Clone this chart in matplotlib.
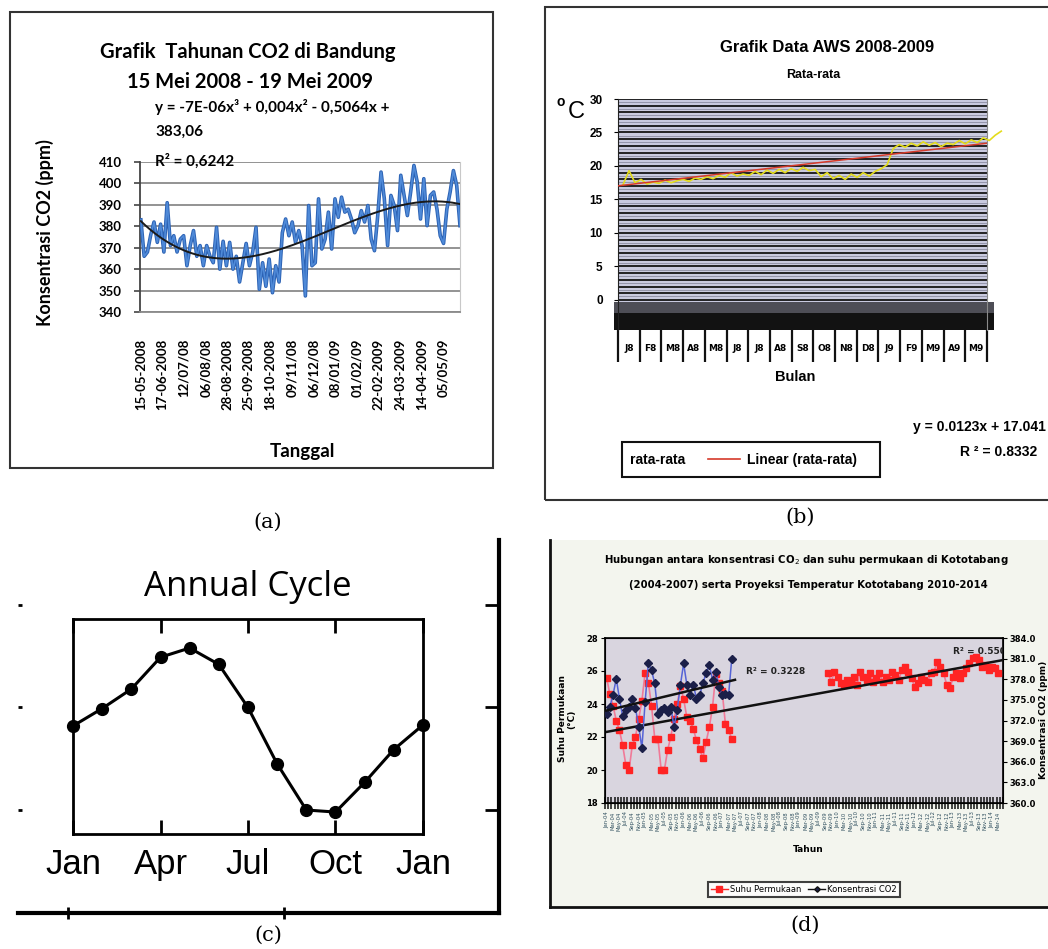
import numpy as np
import matplotlib
matplotlib.use('Agg')
import matplotlib.pyplot as plt
from matplotlib.lines import Line2D
from matplotlib.patches import Rectangle
from matplotlib import font_manager as fm
import pandas as pd

# ------------------------------------------------------------------ data
# (a) Grafik Tahunan CO2 di Bandung
co2_bandung = [383, 366, 368, 376, 382, 372.5, 381, 368, 391, 371, 375.6, 368, 374, 375.6,
               361.6, 371, 378, 366, 371, 361.6, 371, 366, 363, 379.5, 360, 373, 361.6, 372.5,
               360, 366, 354, 363, 372, 361.6, 368, 379.5, 350.6, 363, 352, 364.7, 349, 361.6,
               354, 377, 383.4, 375.6, 382, 372.5, 378, 371,
               347.5, 389.7, 361.6, 363, 392.8, 369.4, 374, 386.6, 369.4, 392.8, 384.2, 393.6,
               386.6, 388, 383.4, 377, 380.3, 387.3, 382, 389.7, 374, 368.6, 385, 405.3, 392.8,
               371, 394.4, 389.7, 378, 403.8, 394.4, 385, 396, 408.4, 400.6, 383.4, 402.2, 380.3,
               394.4, 396, 388, 375.6, 372, 388, 396, 406, 399, 380.3]
a_tick_labels = ['15-05-2008', '17-06-2008', '12/07/08', '06/08/08', '28-08-2008',
                 '25-09-2008', '18-10-2008', '09/11/08', '06/12/08', '08/01/09',
                 '01/02/09', '22-02-2009', '24-03-2009', '14-04-2009', '05/05/09']
a_n_days = 370

# (b) Grafik Data AWS 2008-2009
rata_rata = [17.2, 19.3, 17.5, 18.0, 17.3, 17.6, 17.4, 17.9, 17.5, 17.8, 18.0, 17.7, 18.2, 18.0,
             18.4, 18.1, 18.6, 18.3, 19.0, 18.5, 18.8, 18.6, 19.2, 18.7, 19.4, 18.9, 19.5, 19.0,
             19.6, 19.2, 19.8, 19.3, 19.5, 18.4, 19.0, 18.1, 18.6, 18.0, 18.8, 18.3, 19.0, 18.5,
             19.2, 19.6, 20.2, 22.6, 23.2, 22.8, 23.4, 23.0, 23.6, 23.1, 23.5, 22.9, 23.4, 23.2,
             23.8, 23.3, 23.9, 23.5, 24.2, 23.8, 24.6, 25.2]
b_first_day, b_last_day = 7, 537
b_months = ['J8', 'F8', 'M8', 'A8', 'M8', 'J8', 'J8', 'A8', 'S8', 'O8', 'N8', 'D8',
            'J9', 'F9', 'M9', 'A9', 'M9']
b_total_days = 517
b_slope, b_intercept = 0.0123, 17.041

# (c) Annual Cycle
c_months = ['Jan', 'Apr', 'Jul', 'Oct', 'Jan']
annual_cycle = [0.82, 0.99, 1.18, 1.49, 1.58, 1.42, 1.00, 0.45, 0.00, -0.02, 0.27, 0.59, 0.83]

# (d) Kototabang
suhu_2004_2007 = [25.6, 24.6, 23.9, 23.0, 22.4, 21.5, 20.3, 20.0, 21.5, 22.0, 23.1, 24.2, 25.9,
                  25.3, 23.9, 21.9, 21.9, 20.0, 20.0, 21.2, 22.0, 23.1, 24.0, 25.1, 24.3, 23.2,
                  23.0, 22.5, 21.8, 21.3, 20.7, 21.7, 22.6, 23.8, 25.8, 25.3, 24.8, 22.8, 22.4, 21.9]
co2_2004_2007 = [373.0, 374.0, 375.7, 378.1, 375.2, 372.6, 373.5, 374.0, 375.2, 373.8, 371.1,
                 368.0, 374.7, 380.3, 379.3, 377.4, 373.0, 373.5, 373.8, 373.3, 374.0, 371.1,
                 373.5, 377.2, 380.3, 377.2, 375.7, 377.2, 375.2, 375.7, 377.4, 378.9, 380.1,
                 377.9, 379.1, 376.9, 375.7, 375.9, 375.7, 381.0]
suhu_proyeksi = [25.86, 25.35, 25.96, 25.66, 25.25, 25.15, 25.45, 25.25, 25.66, 25.15, 25.96,
                 25.66, 25.45, 25.86, 25.35, 25.56, 25.86, 25.35, 25.66, 25.45, 25.96, 25.76,
                 25.45, 26.06, 26.26, 25.96, 25.56, 25.05, 25.25, 25.66, 25.45, 25.35, 25.86,
                 25.96, 26.56, 26.26, 25.86, 25.15, 24.95, 25.66, 25.86, 25.56, 25.86, 26.16,
                 26.46, 26.77, 26.87, 26.67, 26.26, 26.36, 26.06, 26.26, 26.16, 25.86]
d_total_months = 124
d_proj_start = 69
d_start = '2004-01'

# ------------------------------------------------------------------ helpers
W, H = 1048, 949
fig = plt.figure(figsize=(W / 100, H / 100), dpi=100)
fig.patch.set_facecolor('white')

names = {f.name for f in fm.fontManager.ttflist}
NARROW = 'Liberation Sans Narrow' if 'Liberation Sans Narrow' in names else 'DejaVu Sans'
ARIAL = 'Liberation Sans'
CAL = 'Lato'


def fx(x):
    return x / W


def fy(y):
    return 1 - y / H


def add_ax(x0, y0, x1, y1, **kw):
    return fig.add_axes([x0 / W, 1 - y1 / H, (x1 - x0) / W, (y1 - y0) / H], **kw)


def ftext(x, y, s, **kw):
    kw.setdefault('ha', 'center')
    kw.setdefault('va', 'center')
    return fig.text(x / W, 1 - y / H, s, **kw)


def frect(x0, y0, x1, y1, **kw):
    r = Rectangle((x0 / W, 1 - y1 / H), (x1 - x0) / W, (y1 - y0) / H,
                  transform=fig.transFigure, **kw)
    fig.patches.append(r)
    return r


def fline(xs, ys, **kw):
    fig.lines.append(Line2D([fx(v) for v in xs], [fy(v) for v in ys],
                            transform=fig.transFigure, **kw))


# ------------------------------------------------------------------ panel (a)
frect(10, 12, 493, 468, fill=False, ec='#333333', lw=1.5)
axA = add_ax(140, 162, 460, 312)
xA = np.linspace(1, a_n_days, len(co2_bandung))
axA.plot(xA, co2_bandung, color='#2c62b4', lw=2.6, zorder=3)
axA.plot(xA, co2_bandung, color='#4f8ad8', lw=1.2, zorder=3)
coef = np.polyfit(xA, co2_bandung, 3)
xfit = np.linspace(1, a_n_days, 300)
axA.plot(xfit, np.polyval(coef, xfit), color='#1a1a1a', lw=1.4, zorder=4)
axA.set_xlim(0, a_n_days)
axA.set_ylim(340, 410)
axA.set_yticks(range(340, 411, 10))
axA.yaxis.grid(True, color='#8a8a8a', lw=1.3)
axA.set_axisbelow(True)
axA.set_xticks(np.arange(1, a_n_days, 25)[:len(a_tick_labels)])
axA.set_xticklabels(a_tick_labels, rotation=90)
for lab in axA.get_xticklabels() + axA.get_yticklabels():
    lab.set_fontfamily(CAL)
    lab.set_fontweight('bold')
axA.tick_params(axis='x', length=0, pad=19, labelsize=9.5)
axA.tick_params(axis='y', length=4, width=1.2, color='#444444', labelsize=9.5, pad=9)
axA.spines['left'].set_color('#444444')
axA.spines['left'].set_linewidth(1.3)
axA.spines['bottom'].set_color('#8a8a8a')
axA.spines['bottom'].set_linewidth(1.3)
axA.spines['top'].set_visible(False)
axA.spines['right'].set_color('#c8c8c8')

ftext(248, 52, 'Grafik  Tahunan CO2 di Bandung', fontsize=14.5, fontweight='bold', family=CAL)
ftext(250, 82, '15 Mei 2008 - 19 Mei 2009', fontsize=14.5, fontweight='bold', family=CAL)
ftext(155, 107, 'y = -7E-06x³ + 0,004x² - 0,5064x +', ha='left', fontsize=11,
      fontweight='bold', family=CAL)
ftext(155, 132, '383,06', ha='left', fontsize=11, fontweight='bold', family=CAL)
ftext(155, 161, 'R² = 0,6242', ha='left', fontsize=11, fontweight='bold', family=CAL)
ftext(45, 233, 'Konsentrasi CO2 (ppm)', rotation=90, fontsize=13, fontweight='bold', family=CAL)
ftext(302, 452, 'Tanggal', fontsize=13.5, fontweight='bold', family=CAL)

# ------------------------------------------------------------------ panel (b)
frect(545, 7, 1060, 500, fill=False, ec='#333333', lw=1.5)
axB = add_ax(618, 99, 987, 330)
axB.set_facecolor('#c9cadf')
axB.set_xlim(0, b_total_days)
axB.set_ylim(-4.48, 30)
for v in range(0, 31):
    axB.axhline(v, color='#151515', lw=1.3, zorder=1)
    axB.axhline(v - 0.45, color='#8c8da2', lw=0.6, zorder=1)
axB.add_patch(Rectangle((-5.6, -1.9), 532, 1.6, fc='#4e4e56', ec='none',
                        clip_on=False, zorder=2))
axB.add_patch(Rectangle((-5.6, -4.48), 532, 2.58, fc='#121212', ec='none',
                        clip_on=False, zorder=2))
xB = np.linspace(b_first_day, b_last_day, len(rata_rata))
axB.plot(xB, rata_rata, color='#e4dc1c', lw=1.2, zorder=4, clip_on=False)
axB.plot([0, b_total_days], [b_intercept, b_intercept + b_slope * b_total_days],
         color='#d63a2a', lw=1.1, zorder=5)
axB.set_yticks(range(0, 31, 5))
for lab in axB.get_yticklabels():
    lab.set_fontfamily(ARIAL)
    lab.set_fontweight('bold')
axB.tick_params(axis='y', length=3, labelsize=8.5, pad=8)
edges = np.linspace(0, b_total_days, len(b_months) + 1)
axB.set_xticks(edges)
axB.set_xticklabels([])
axB.tick_params(axis='x', which='major', length=23, width=1.6, color='#111111')
axB.set_xticks((edges[:-1] + edges[1:]) / 2, minor=True)
axB.set_xticklabels(b_months, minor=True)
for lab in axB.get_xticklabels(minor=True):
    lab.set_fontfamily(NARROW)
    lab.set_fontweight('bold')
axB.tick_params(axis='x', which='minor', length=0, labelsize=6.5, pad=10)
axB.spines['top'].set_visible(False)
axB.spines['bottom'].set_visible(False)
axB.spines['right'].set_color('#8a8a8a')
axB.spines['left'].set_color('#222222')

ftext(827, 48, 'Grafik Data AWS 2008-2009', fontsize=12, fontweight='bold', family=ARIAL)
ftext(813, 75, 'Rata-rata', fontsize=9, fontweight='bold', family=ARIAL)
ftext(561, 102, 'o', fontsize=10, fontweight='bold', family=ARIAL)
ftext(576, 112, 'C', fontsize=17, family=ARIAL)
ftext(795, 377, 'Bulan', fontsize=10.5, fontweight='bold', family=ARIAL)
frect(622, 442, 880, 477, fill=False, ec='#111111', lw=1.5)
ftext(630, 460, 'rata-rata', ha='left', fontsize=10, fontweight='bold', family=ARIAL)
fline([708, 740], [459, 459], color='#d63a2a', lw=1.2)
ftext(747, 460, 'Linear (rata-rata)', ha='left', fontsize=10, fontweight='bold', family=ARIAL)
ftext(1046, 427, 'y = 0.0123x + 17.041', ha='right', fontsize=10, fontweight='bold', family=ARIAL)
ftext(1037, 452, 'R ² = 0.8332', ha='right', fontsize=10, fontweight='bold', family=ARIAL)

# ------------------------------------------------------------------ panel (c)
axC0 = add_ax(18, 540, 499, 913)
axC0.patch.set_visible(False)
axC0.set_xlim(0, 1)
axC0.set_ylim(-1.005, 2.634)
for s in ['left', 'top']:
    axC0.spines[s].set_visible(False)
for s in ['right', 'bottom']:
    axC0.spines[s].set_linewidth(3)
axC0.set_yticks([0, 1, 2])
axC0.set_xticks([0.104, 0.553])
axC0.tick_params(axis='y', left=True, right=True, direction='in', length=10, width=2,
                 labelleft=False, labelright=False)
for tk in axC0.yaxis.get_major_ticks():
    tk.tick1line.set_markersize(3)
axC0.tick_params(axis='x', direction='inout', length=9, width=2, labelbottom=False)

axC = add_ax(73, 619, 423, 834)
xC = np.arange(len(annual_cycle))
axC.plot(xC, annual_cycle, color='black', lw=2.2, marker='o', ms=8.5, clip_on=False, zorder=5)
axC.set_xlim(0, len(annual_cycle) - 1)
axC.set_ylim(-0.234, 1.863)
axC.set_yticks([])
axC.set_xticks(np.arange(0, len(annual_cycle), 3))
axC.set_xticklabels(c_months)
for lab in axC.get_xticklabels():
    lab.set_fontfamily(ARIAL)
axC.tick_params(axis='x', direction='in', top=True, length=10, width=2, labelsize=25, pad=10)
for s in axC.spines.values():
    s.set_linewidth(2)
ftext(248, 587, 'Annual Cycle', fontsize=25, family='Open Sans')

# ------------------------------------------------------------------ panel (d)
frect(550, 540, 1060, 907, fc='#f3f5ee', ec='none', zorder=-5)
fline([550, 550], [540, 907], color='#111111', lw=2)
fline([550, 1060], [907, 907], color='#111111', lw=2)

axD = add_ax(605, 638, 1003, 803)
axD.set_facecolor('#d9d5df')
mA = np.arange(len(suhu_2004_2007)) + 0.5
mP = np.arange(len(suhu_proyeksi)) + d_proj_start + 0.5
red_kw = dict(color='#f07a98', lw=1.2, marker='s', ms=5, mfc='#ff2424', mec='#ff2424')
axD.plot(mA, suhu_2004_2007, **red_kw, zorder=3)
axD.plot(mP, suhu_proyeksi, **red_kw, zorder=3)
m_all = np.concatenate([mA, mP])
t_all = np.concatenate([suhu_2004_2007, suhu_proyeksi])
tcoef = np.polyfit(m_all, t_all, 1)
xs_t = np.array([0, d_total_months])
axD.plot(xs_t, np.polyval(tcoef, xs_t), color='#111111', lw=1.8, zorder=4)
axD.set_xlim(0, d_total_months)
axD.set_ylim(18, 28)
axD.set_yticks(range(18, 29, 2))
axD.set_xticks(np.arange(0, d_total_months + 1))
axD.set_xticklabels([])
axD.tick_params(axis='x', which='major', direction='inout', length=8, width=1.1, color='#111111')
month_lbls = pd.date_range(d_start, periods=d_total_months, freq='MS').strftime('%b-%y')
axD.set_xticks(np.arange(0, d_total_months, 2) + 0.5, minor=True)
axD.set_xticklabels(list(month_lbls[::2]), minor=True, rotation=90)
axD.tick_params(axis='x', which='minor', length=0, labelsize=3.8, pad=6, labelcolor='#2f4f5f')
axD.tick_params(axis='y', length=3, labelsize=6, pad=2)
for lab in axD.get_yticklabels():
    lab.set_fontweight('bold')
    lab.set_fontfamily(NARROW)
for s in axD.spines.values():
    s.set_linewidth(1.2)

axD2 = axD.twinx()
axD2.plot(mA, co2_2004_2007, color='#5563d6', lw=1.1, marker='D', ms=3.6,
          mfc='#1b1f48', mec='#1b1f48', zorder=3)
ccoef = np.polyfit(mA, co2_2004_2007, 1)
xs_c = np.array([0.5, len(co2_2004_2007) + 0.5])
axD2.plot(xs_c, np.polyval(ccoef, xs_c), color='#111111', lw=1.8, zorder=4)
axD2.set_ylim(360, 384)
axD2.set_yticks(range(360, 385, 3))
axD2.set_yticklabels([f'{v:.1f}' for v in range(360, 385, 3)])
axD2.tick_params(axis='y', length=3, labelsize=6, pad=2)
for lab in axD2.get_yticklabels():
    lab.set_fontweight('bold')
    lab.set_fontfamily(NARROW)
axD2.text(0.355, 0.78, 'R² = 0.3228', transform=axD.transAxes, fontsize=6.5,
          fontweight='bold', family=NARROW, color='#222222')
axD2.text(0.875, 0.905, 'R² = 0.550', transform=axD.transAxes, fontsize=6.5,
          fontweight='bold', family=NARROW, color='#222222', clip_on=True)

ftext(806, 560, 'Hubungan antara konsentrasi CO$_2$ dan suhu permukaan di Kototabang',
      fontsize=7.3, fontweight='bold', family=NARROW)
ftext(808, 585, '(2004-2007) serta Proyeksi Temperatur Kototabang 2010-2014',
      fontsize=7.3, fontweight='bold', family=NARROW)
ftext(567, 719, 'Suhu Permukaan\n(°C)', rotation=90, fontsize=6.5, fontweight='bold',
      family=NARROW, linespacing=1.0)
ftext(1044, 720, 'Konsentrasi CO2 (ppm)', rotation=90, fontsize=6.5, fontweight='bold',
      family=NARROW)
ftext(808, 850, 'Tahun', fontsize=6.5, fontweight='bold', family=NARROW)
handles = [Line2D([], [], color='#ff2424', lw=1.0, marker='s', ms=4),
           Line2D([], [], color='#111111', lw=1.0, marker='D', ms=2.8, mfc='#1b1f48')]
leg = axD.legend(handles, ['Suhu Permukaan', 'Konsentrasi CO2'], loc='center',
                 bbox_to_anchor=(fx(804), fy(889.5)), bbox_transform=fig.transFigure,
                 ncol=2, fontsize=6, frameon=True, fancybox=False, borderpad=0.35,
                 columnspacing=0.8, handlelength=2.0, handletextpad=0.3)
leg.get_frame().set_edgecolor('#111111')
leg.get_frame().set_linewidth(1.5)
for t in leg.get_texts():
    t.set_fontfamily(NARROW)

# ------------------------------------------------------------------ panel labels
for x, y, s in [(268, 522, '(a)'), (800, 517, '(b)'), (268, 935, '(c)'), (805, 925, '(d)')]:
    ftext(x, y, s, fontsize=15, family='DejaVu Serif')

fig.savefig('out.png', dpi=100, facecolor='white')
